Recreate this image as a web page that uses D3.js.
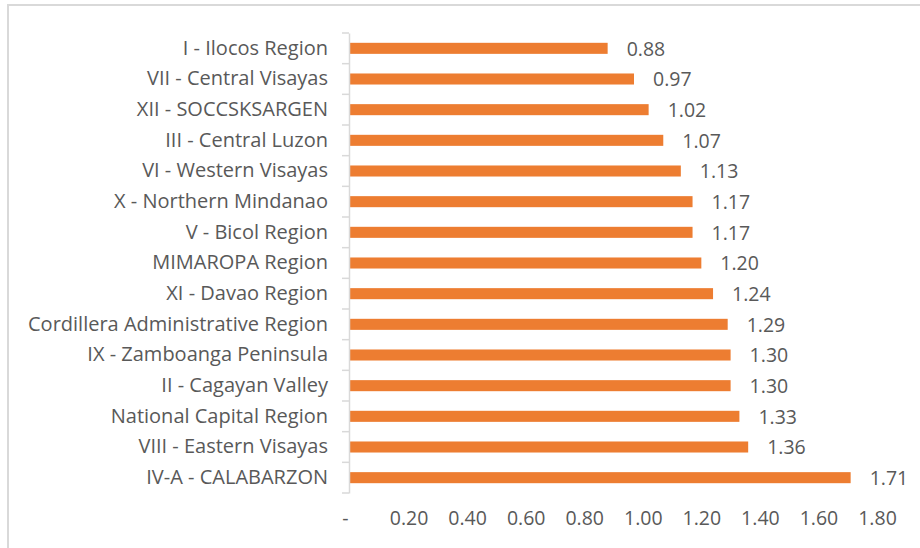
<!DOCTYPE html>
<html>
<head>
<meta charset="utf-8">
<script src="https://cdn.jsdelivr.net/npm/d3@7"></script>
<style>
  html, body { margin: 0; padding: 0; background: #fff; }
  svg { display: block; }
  text { font-family: "Open Sans", "Noto Sans", sans-serif; fill: #595959; }
</style>
</head>
<body>
<svg id="chart" width="920" height="548"></svg>
<script>
const categories = [
  "I - Ilocos Region",
  "VII - Central Visayas",
  "XII - SOCCSKSARGEN",
  "III - Central Luzon",
  "VI - Western Visayas",
  "X - Northern Mindanao",
  "V - Bicol Region",
  "MIMAROPA Region",
  "XI - Davao Region",
  "Cordillera Administrative Region",
  "IX - Zamboanga Peninsula",
  "II - Cagayan Valley",
  "National Capital Region",
  "VIII - Eastern Visayas",
  "IV-A - CALABARZON"
];
const values = [0.88, 0.97, 1.02, 1.07, 1.13, 1.17, 1.17, 1.20, 1.24, 1.29, 1.30, 1.30, 1.33, 1.36, 1.71];
const valueLabels = ["0.88", "0.97", "1.02", "1.07", "1.13", "1.17", "1.17", "1.20", "1.24", "1.29", "1.30", "1.30", "1.33", "1.36", "1.71"];
const tickValues = [0, 0.2, 0.4, 0.6, 0.8, 1.0, 1.2, 1.4, 1.6, 1.8];
const tickLabels = ["-", "0.20", "0.40", "0.60", "0.80", "1.00", "1.20", "1.40", "1.60", "1.80"];

const svg = d3.select("#chart");

// chart border
svg.append("rect")
  .attr("x", 8).attr("y", 5)
  .attr("width", 930).attr("height", 560)
  .attr("fill", "none")
  .attr("stroke", "#d9d9d9")
  .attr("stroke-width", 2);

const x = d3.scaleLinear().domain([0, 1.8]).range([350, 877]);
const y = d3.scaleBand().domain(categories).range([33, 493]).paddingInner(0.64).paddingOuter(0.32);

const catSize = 20, numSize = 19.5;

// bars
svg.append("g").selectAll("rect")
  .data(values)
  .join("rect")
  .attr("x", x(0))
  .attr("y", (d, i) => y(categories[i]))
  .attr("width", d => x(d) - x(0))
  .attr("height", y.bandwidth())
  .attr("fill", "#ED7D31");

// value labels
svg.append("g").selectAll("text")
  .data(values)
  .join("text")
  .attr("x", d => x(d) + 19)
  .attr("y", (d, i) => y(categories[i]) + y.bandwidth() / 2 + 2)
  .attr("dominant-baseline", "middle")
  .attr("font-size", numSize)
  .text((d, i) => valueLabels[i]);

// y axis
const yAxis = d3.axisLeft(y).tickSize(0).tickPadding(21);
const gy = svg.append("g").attr("transform", `translate(${x(0) - 1},0)`).call(yAxis);
gy.select(".domain").attr("stroke", "#d9d9d9").attr("stroke-width", 1.5);
gy.selectAll(".tick text").attr("font-size", catSize).style("fill", "#595959").attr("font-family", "Open Sans");
// band boundary ticks
const step = y.step();
const bounds = d3.range(categories.length + 1).map(i => 33 + i * step);
gy.selectAll("line.bt").data(bounds).join("line")
  .attr("class", "bt")
  .attr("x1", -7).attr("x2", 0)
  .attr("y1", d => d).attr("y2", d => d)
  .attr("stroke", "#d9d9d9").attr("stroke-width", 1.5);

// x axis labels (no line)
const xAxis = d3.axisBottom(x).tickValues(tickValues).tickSize(0).tickPadding(0)
  .tickFormat((d, i) => tickLabels[i]);
const gx = svg.append("g").attr("transform", "translate(0,511)").call(xAxis);
gx.select(".domain").remove();
gx.selectAll(".tick text").attr("font-size", numSize).style("fill", "#595959").attr("font-family", "Open Sans")
  .attr("dx", (d, i) => i === 0 ? -5 : 0);
</script>
</body>
</html>
